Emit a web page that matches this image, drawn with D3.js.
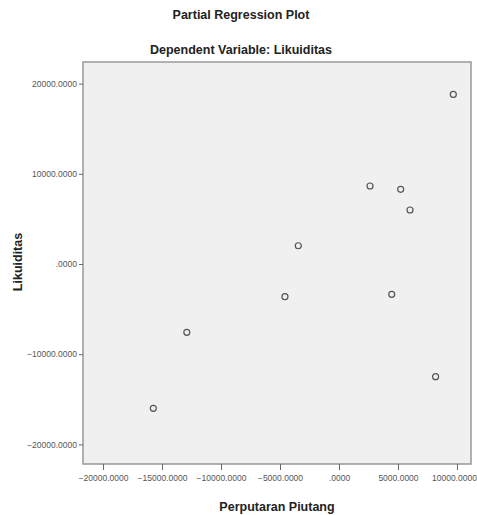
<!DOCTYPE html>
<html lang="en">
<head>
    <meta charset="UTF-8">
    <title>partial regression plot</title>
    <script src="https://cdn.jsdelivr.net/npm/d3@7/dist/d3.min.js"></script>
    <style>
        body { margin: 0; background: #fff; }
        text { font-family: "Liberation Sans Narrow", "Arial Narrow", "Liberation Sans", Arial, sans-serif; }
        .title { font-size: 12.5px; font-weight: bold; fill: #222; }
        .axis-title { font-size: 12.5px; font-weight: bold; fill: #222; }
        g.axis text { font-size: 8.5px; fill: #555; }
        g.axis path { display: none; }
        g.axis line { stroke: #666; }
        circle.pt { fill: none; stroke: #555; stroke-width: 1.2px; }
    </style>
</head>
<body>

<svg width="477" height="515"></svg>

<script>
    // residuals of Perputaran Piutang (x) vs Likuiditas (y)
    let xValues = [-15740, -12900, -4580, -3450, 2630, 5230, 6020, 4470, 8190, 9690]
    let yValues = [-16000, -7570, -3620, 2030, 8650, 8280, 5990, -3360, -12490, 18810]

    let xTicks = [-20000, -15000, -10000, -5000, 0, 5000, 10000]
    let yTicks = [-20000, -10000, 0, 10000, 20000]
    let xDomain = [-21700, 11190]
    let yDomain = [-22170, 22400]

    let titleText = "Partial Regression Plot"
    let subtitleText = "Dependent Variable: Likuiditas"
    let xLabel = "Perputaran Piutang"
    let yLabel = "Likuiditas"

    let svg = d3.select('svg')
    let plot = {left: 83, right: 471, top: 62, bottom: 464}

    let xScale = d3.scaleLinear().domain(xDomain).range([plot.left, plot.right])
    let yScale = d3.scaleLinear().domain(yDomain).range([plot.bottom, plot.top])

    // SPSS style number format: 5000.0000, .0000
    function fmt(v) {
        if (v === 0) return ".0000"
        return d3.format(".4f")(v)
    }

    svg.append('rect')
        .attr('x', plot.left).attr('y', plot.top)
        .attr('width', plot.right - plot.left).attr('height', plot.bottom - plot.top)
        .attr('fill', '#f0f0f0').attr('stroke', '#999').attr('stroke-width', 1.5)

    let xAxis = svg.append('g').attr('class', 'axis')
        .attr('transform', 'translate(0,' + (plot.bottom) + ')')
        .call(d3.axisBottom(xScale).tickValues(xTicks).tickFormat(fmt).tickSize(6).tickPadding(5))
    // last label sits at the window edge, nudge it in
    xAxis.selectAll('.tick:last-of-type text').attr('dx', -3)

    let yAxis = svg.append('g').attr('class', 'axis')
        .attr('transform', 'translate(' + (plot.left) + ',0)')
        .call(d3.axisLeft(yScale).tickValues(yTicks).tickFormat(fmt).tickSize(4).tickPadding(2))

    let data = d3.zip(xValues, yValues)
    svg.append('g').selectAll('circle')
        .data(data)
        .enter().append('circle')
        .attr('class', 'pt')
        .attr('cx', function (d) { return xScale(d[0]) })
        .attr('cy', function (d) { return yScale(d[1]) })
        .attr('r', 3)

    svg.append('text').attr('class', 'title')
        .attr('x', 241).attr('y', 19).attr('text-anchor', 'middle')
        .text(titleText)
    svg.append('text').attr('class', 'title')
        .attr('x', 241).attr('y', 54).attr('text-anchor', 'middle')
        .text(subtitleText)

    svg.append('text').attr('class', 'axis-title')
        .attr('x', (plot.left + plot.right) / 2).attr('y', 511).attr('text-anchor', 'middle')
        .text(xLabel)
    svg.append('text').attr('class', 'axis-title')
        .attr('transform', 'translate(22,' + 262 + ') rotate(-90)')
        .attr('text-anchor', 'middle')
        .text(yLabel)
</script>

</body>
</html>
